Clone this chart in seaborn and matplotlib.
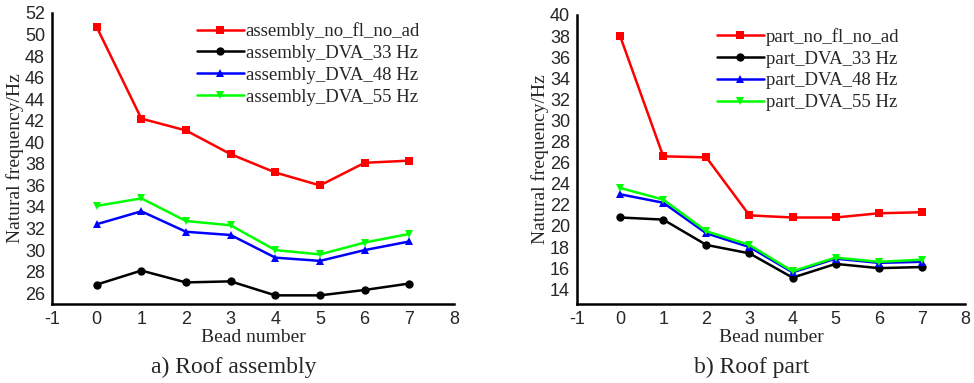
import pandas as pd
import matplotlib.pyplot as plt
import seaborn as sns
from matplotlib.ticker import MultipleLocator

beads = [0, 1, 2, 3, 4, 5, 6, 7]

asm_names = ['assembly_no_fl_no_ad', 'assembly_DVA_33 Hz', 'assembly_DVA_48 Hz', 'assembly_DVA_55 Hz']
asm_no_fl = [50.7, 42.2, 41.1, 38.9, 37.2, 36.0, 38.1, 38.3]
asm_dva33 = [26.8, 28.1, 27.0, 27.1, 25.8, 25.8, 26.3, 26.9]
asm_dva48 = [32.4, 33.6, 31.7, 31.4, 29.3, 29.0, 30.0, 30.8]
asm_dva55 = [34.1, 34.8, 32.7, 32.3, 30.0, 29.6, 30.7, 31.5]

part_names = ['part_no_fl_no_ad', 'part_DVA_33 Hz', 'part_DVA_48 Hz', 'part_DVA_55 Hz']
part_no_fl = [38.0, 26.6, 26.5, 21.0, 20.8, 20.8, 21.2, 21.3]
part_dva33 = [20.8, 20.6, 18.2, 17.4, 15.1, 16.4, 16.0, 16.1]
part_dva48 = [23.0, 22.2, 19.3, 18.0, 15.6, 16.9, 16.5, 16.6]
part_dva55 = [23.6, 22.5, 19.5, 18.2, 15.7, 17.0, 16.6, 16.8]

colors = ['#ff0000', '#000000', '#0000ff', '#00ff00']
marks = ['s', 'o', '^', 'v']


def to_long(names, series):
    rows = []
    for name, vals in zip(names, series):
        for b, v in zip(beads, vals):
            rows.append({'Bead': b, 'Freq': v, 'Series': name})
    return pd.DataFrame(rows)


def draw_panel(ax, names, series, ylim, ymajor, legend_anchor):
    df = to_long(names, series)
    sns.lineplot(data=df, x='Bead', y='Freq', hue='Series', style='Series',
                 palette=dict(zip(names, colors)), markers=dict(zip(names, marks)),
                 dashes=False, linewidth=1.8, markersize=6, markeredgewidth=0,
                 ax=ax)
    ax.set_xlim(-1, 8)
    ax.set_ylim(*ylim)
    ax.xaxis.set_major_locator(MultipleLocator(1))
    ax.xaxis.set_minor_locator(MultipleLocator(0.5))
    ax.yaxis.set_major_locator(MultipleLocator(ymajor))
    ax.yaxis.set_minor_locator(MultipleLocator(ymajor / 2))
    ax.tick_params(which='major', direction='in', length=6, width=1.5, labelsize=13, pad=5)
    ax.tick_params(which='minor', direction='in', length=3, width=1.5)
    for lab in ax.get_xticklabels() + ax.get_yticklabels():
        lab.set_family('Liberation Sans')
    for side in ['top', 'right']:
        ax.spines[side].set_visible(False)
    for side in ['left', 'bottom']:
        ax.spines[side].set_linewidth(1.8)
        ax.spines[side].set_color('black')
    ax.set_xlabel('Bead number', family='Liberation Serif', fontsize=14, labelpad=1)
    ax.set_ylabel('Natural frequency/Hz', family='Liberation Serif', fontsize=14, labelpad=1)
    ax.grid(False)
    ax.legend(loc='upper left', bbox_to_anchor=legend_anchor, frameon=False,
              prop={'family': 'Liberation Serif', 'size': 13.5}, handlelength=2.5,
              handletextpad=0.12, labelspacing=0.25, borderaxespad=0, borderpad=0)


sns.set_style('white')
plt.rcParams['axes.unicode_minus'] = False
fig = plt.figure(figsize=(9.74, 3.83), dpi=100)
ax1 = fig.add_axes([0.0534, 0.2063, 0.4127, 0.7598])
ax2 = fig.add_axes([0.5924, 0.2063, 0.3984, 0.7546])

draw_panel(ax1, asm_names, [asm_no_fl, asm_dva33, asm_dva48, asm_dva55], (25, 52), 2, (0.36, 0.968))
draw_panel(ax2, part_names, [part_no_fl, part_dva33, part_dva48, part_dva55], (12.6, 40), 2, (0.36, 0.955))

fig.text(0.240, 0.042, 'a) Roof assembly', ha='center', va='center', family='Liberation Serif', fontsize=17)
fig.text(0.772, 0.042, 'b) Roof part', ha='center', va='center', family='Liberation Serif', fontsize=17)

fig.savefig('out.png', dpi=100)
